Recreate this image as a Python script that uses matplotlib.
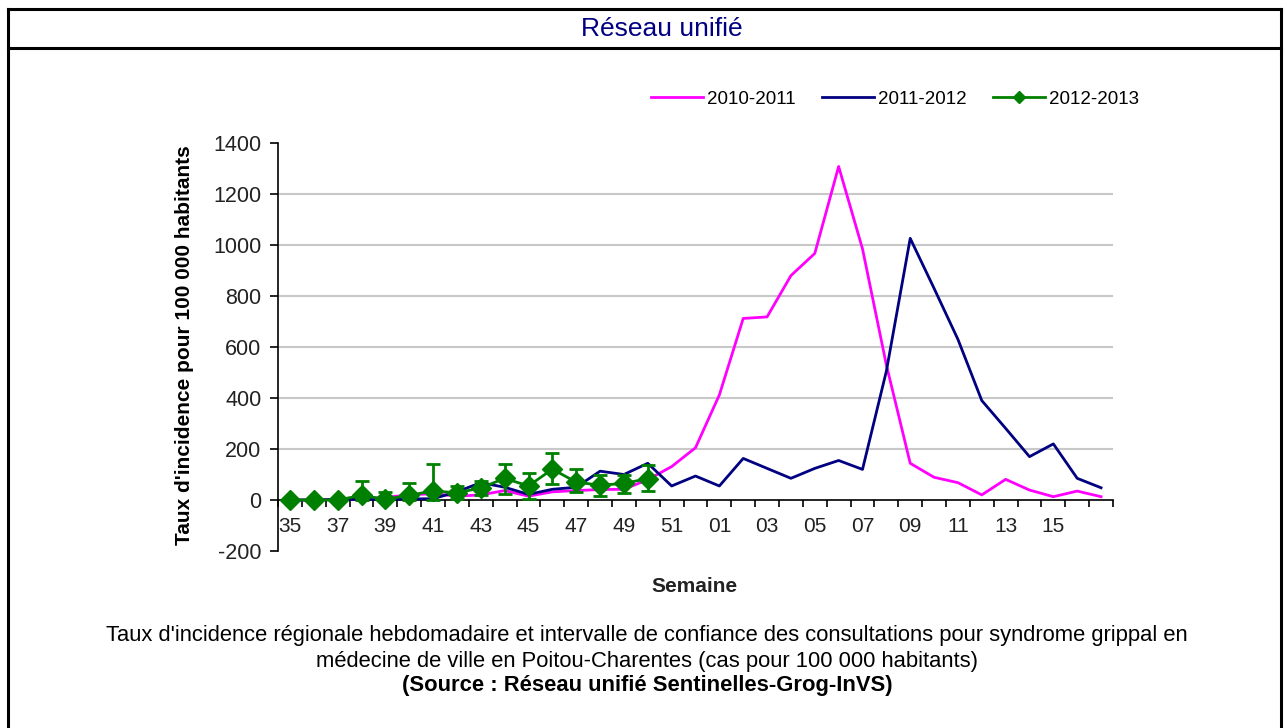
import matplotlib
matplotlib.use("Agg")
import matplotlib.pyplot as plt
from matplotlib.lines import Line2D
import numpy as np

plt.rcParams["axes.unicode_minus"] = False

# ── Data ──────────────────────────────────────────────────────────────────────
weeks = [f"{w:02d}" for w in range(35, 53)] + [f"{w:02d}" for w in range(1, 18)]

season_2010 = [0, 0, 3, 5, 10, 20, 25, 15, 20, 37, 15, 32, 37, 41, 42, 80,
               131, 205, 412, 712, 718, 880, 967, 1308, 985, 530, 144, 89,
               68, 20, 81, 39, 13, 35, 13]
season_2011 = [0, 0, 2, 3, 3, 4, 5, 32, 68, 50, 22, 42, 50, 113, 100, 144,
               55, 94, 55, 163, 124, 85, 124, 155, 120, 505, 1026, 830,
               630, 390, 281, 170, 220, 85, 48]
season_2012 = [0, 0, 0, 18, 3, 18, 36, 28, 47, 85, 55, 121, 70, 58, 65, 84]
ci_low_2012 = [0, 0, 0, 0, 0, 0, 0, 3, 18, 25, 2, 62, 30, 16, 28, 35]
ci_high_2012 = [0, 0, 0, 76, 31, 66, 142, 56, 76, 142, 106, 186, 120, 98, 100, 138]

series_labels = ["2010-2011", "2011-2012", "2012-2013"]
colors = ["#ff00ff", "#000080", "#008000"]

ARIAL = ["Liberation Sans", "DejaVu Sans"]

W, H = 1287, 728
fig = plt.figure(figsize=(W / 100, H / 100), dpi=100)
fig.patch.set_facecolor("white")


def fx(px):
    return px / W


def fy(py):
    return 1 - py / H


# ── Frame and title ──────────────────────────────────────────────────────────
for xs, ys in [([8, 1281], [9, 9]), ([8, 1281], [48, 48]),
               ([8, 8], [9, 728]), ([1281, 1281], [9, 728])]:
    fig.add_artist(Line2D([fx(x) for x in xs], [fy(y) for y in ys],
                          color="black", lw=2.2))

fig.text(fx(662), fy(29), "Réseau unifié", ha="center", va="center",
         fontsize=19, color="#000080", family=ARIAL)

# ── Plot ─────────────────────────────────────────────────────────────────────
ax = fig.add_axes([fx(278), fy(551), fx(1113) - fx(278), fy(143) - fy(551)])
x = np.arange(len(weeks))
x12 = np.arange(len(season_2012))

ax.plot(x, season_2010, color=colors[0], lw=2.0, zorder=3)
ax.plot(x, season_2011, color=colors[1], lw=2.0, zorder=3)
val = np.array(season_2012)
yerr = [val - np.array(ci_low_2012), np.array(ci_high_2012) - val]
ax.errorbar(x12, season_2012, yerr=yerr, color=colors[2], lw=2.0,
            marker="D", markersize=10, capsize=5, capthick=2.0,
            elinewidth=2.0, zorder=4)

ax.set_xlim(-0.5, len(weeks) - 0.5)
ax.set_ylim(-200, 1400)
ax.set_yticks(np.arange(-200, 1401, 200))
for g in range(200, 1201, 200):
    ax.axhline(g, color="#c8c8c8", lw=1.5, zorder=1)

for s in ["top", "right"]:
    ax.spines[s].set_visible(False)
ax.spines["bottom"].set_position(("data", 0))
ax.spines["bottom"].set_zorder(2)
ax.spines["left"].set_linewidth(1.2)
ax.spines["bottom"].set_linewidth(1.2)

major = list(range(0, 33, 2))
ax.set_xticks(major)
ax.set_xticklabels([weeks[i] for i in major])
ax.set_xticks(np.arange(-0.5, len(weeks), 1), minor=True)
ax.tick_params(axis="x", which="major", length=0, pad=12, labelsize=15,
               labelcolor="#222222")
ax.tick_params(axis="x", which="minor", length=5, width=1.2, direction="out")
ax.tick_params(axis="y", length=6, width=1.2, pad=6, labelsize=15.5,
               labelcolor="#222222")
for lab in ax.get_xticklabels() + ax.get_yticklabels():
    lab.set_family(ARIAL)

fig.text(fx(185), fy(345), "Taux d'incidence pour 100 000 habitants",
         rotation=90, ha="center", va="center", fontsize=15,
         fontweight="bold", family=ARIAL)
fig.text(fx(694), fy(587), "Semaine", ha="center", va="center",
         fontsize=15, fontweight="bold", family=ARIAL, color="#222222")

# ── Legend ───────────────────────────────────────────────────────────────────
handles = [Line2D([], [], color=colors[0], lw=2.0),
           Line2D([], [], color=colors[1], lw=2.0),
           Line2D([], [], color=colors[2], lw=2.0, marker="D", markersize=6)]
fig.legend(handles, series_labels, loc="center", bbox_to_anchor=(fx(895), fy(99)),
           ncol=3, frameon=False, handlelength=2.8, handletextpad=0.2,
           columnspacing=1.4, prop={"family": ARIAL, "size": 13.5})

# ── Caption ──────────────────────────────────────────────────────────────────
fig.text(fx(647), fy(636),
         "Taux d'incidence régionale hebdomadaire et intervalle de confiance "
         "des consultations pour syndrome grippal en",
         ha="center", va="center", fontsize=15.8, family=ARIAL)
fig.text(fx(647), fy(661),
         "médecine de ville en Poitou-Charentes (cas pour 100 000 habitants)",
         ha="center", va="center", fontsize=15.8, family=ARIAL)
fig.text(fx(647), fy(685), "(Source : Réseau unifié Sentinelles-Grog-InVS)",
         ha="center", va="center", fontsize=15.8, fontweight="bold",
         family=ARIAL)

fig.savefig("out.png", dpi=100)
